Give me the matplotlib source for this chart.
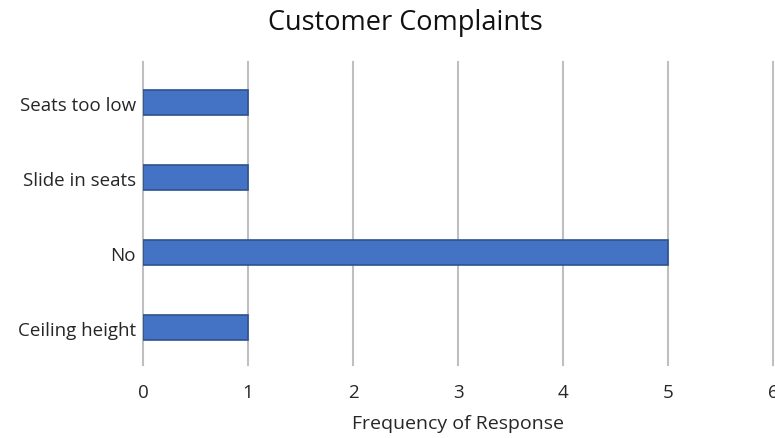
import matplotlib
matplotlib.use("Agg")
import matplotlib.pyplot as plt

categories = ["Ceiling height", "No", "Slide in seats", "Seats too low"]
counts = [1, 5, 1, 1]
x_ticks = [0, 1, 2, 3, 4, 5, 6]

plt.rcParams['font.family'] = ['Open Sans', 'DejaVu Sans']

fig = plt.figure(figsize=(7.75, 4.39), dpi=100)
ax = fig.add_axes([0.1845, 0.1663, 0.813, 0.690])

ax.barh(categories, counts, height=0.33, color='#4472C4', edgecolor='#2F528F', linewidth=1.2, zorder=3)

ax.set_xlim(0, 6)
ax.set_ylim(-0.5, 3.54)
ax.set_xticks(x_ticks)
ax.grid(axis='x', color='#BFBFBF', linewidth=1.5, zorder=0)
ax.grid(axis='y', visible=False)
for gl in ax.get_xgridlines():
    gl.set_clip_on(False)
for s in ax.spines.values():
    s.set_visible(False)
ax.tick_params(axis='both', length=0, labelsize=13.5)
ax.tick_params(axis='x', pad=13)
ax.tick_params(axis='y', pad=5)
for lbl in ax.get_xticklabels() + ax.get_yticklabels():
    lbl.set_color('#262626')

ax.set_xlabel('Frequency of Response', fontsize=14, color='#262626', labelpad=9)
fig.text(0.523, 0.948, 'Customer Complaints', ha='center', va='center', fontsize=19.5, color='#111111')

fig.savefig('out.png', dpi=100)
